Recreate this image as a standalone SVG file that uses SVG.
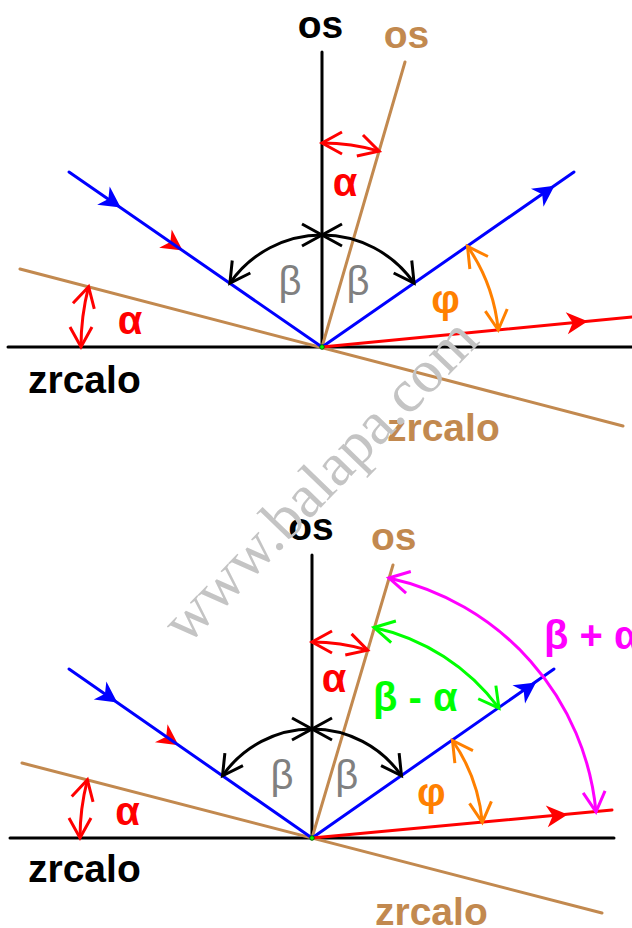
<svg xmlns="http://www.w3.org/2000/svg" xmlns:xlink="http://www.w3.org/1999/xlink" width="632" height="928" viewBox="0 0 632 928">
<style>
.lbl{font-family:"Liberation Sans",Arial,sans-serif;font-weight:bold;font-size:39px}
.gr{font-family:"Liberation Sans",Arial,sans-serif;font-size:40px}
.grb{font-family:"Liberation Sans",Arial,sans-serif;font-size:40px;font-weight:bold}
.ln{stroke-width:3;fill:none;stroke-linecap:round}
.arc{stroke-width:3;fill:none}
.k{stroke:#000}.b{stroke:#0000ff}.r{stroke:#ff0000}.t{stroke:#c2894f}
.wm{font-family:"Liberation Serif","Times New Roman",serif;font-size:61px;fill:#c4c4c4}
</style>
<defs>
<path id="ah" d="M0,0 L-21,-11 L-15,0 L-21,11 Z"/>
<marker id="mk" markerUnits="userSpaceOnUse" markerWidth="30" markerHeight="30" viewBox="-25 -15 30 30" refX="0" refY="0" orient="auto-start-reverse"><path d="M-20,-11 L0,0 L-20,11" fill="none" stroke="#000" stroke-width="3"/></marker>
<marker id="mr" markerUnits="userSpaceOnUse" markerWidth="30" markerHeight="30" viewBox="-25 -15 30 30" refX="0" refY="0" orient="auto-start-reverse"><path d="M-20,-11 L0,0 L-20,11" fill="none" stroke="#ff0000" stroke-width="3"/></marker>
<marker id="mo" markerUnits="userSpaceOnUse" markerWidth="30" markerHeight="30" viewBox="-25 -15 30 30" refX="0" refY="0" orient="auto-start-reverse"><path d="M-20,-11 L0,0 L-20,11" fill="none" stroke="#ff8000" stroke-width="3"/></marker>
<marker id="mg" markerUnits="userSpaceOnUse" markerWidth="30" markerHeight="30" viewBox="-25 -15 30 30" refX="0" refY="0" orient="auto-start-reverse"><path d="M-20,-11 L0,0 L-20,11" fill="none" stroke="#00ff00" stroke-width="3"/></marker>
<marker id="mm" markerUnits="userSpaceOnUse" markerWidth="30" markerHeight="30" viewBox="-25 -15 30 30" refX="0" refY="0" orient="auto-start-reverse"><path d="M-20,-11 L0,0 L-20,11" fill="none" stroke="#ff00ff" stroke-width="3"/></marker>
</defs>
<rect width="632" height="928" fill="#fff"/>

<g id="connectors">
<!-- top figure -->
<line class="ln k" x1="8" y1="347" x2="632" y2="347"/>
<line class="ln k" x1="322" y1="52" x2="322" y2="347"/>
<line class="ln t" x1="322" y1="347" x2="405" y2="62"/>
<line class="ln t" x1="20" y1="269" x2="623" y2="426"/>
<use xlink:href="#ah" fill="#ff0000" transform="translate(182.7,250.6) rotate(34.7)"/>
<line class="ln b" x1="69" y1="172" x2="322" y2="347"/>
<line class="ln b" x1="322" y1="347" x2="574" y2="172"/>
<line class="ln r" x1="322" y1="347" x2="632" y2="317"/>
<use xlink:href="#ah" fill="#0000ff" transform="translate(120.7,207.6) rotate(34.7)"/>
<use xlink:href="#ah" fill="#0000ff" transform="translate(554.5,185.8) rotate(-34.7)"/>
<use xlink:href="#ah" fill="#ff0000" transform="translate(587.7,321.3) rotate(-5.5)"/>
<path class="arc k" marker-start="url(#mk)" marker-end="url(#mk)" d="M322,235 A112,112 0 0 0 229.9,283.2"/>
<path class="arc k" marker-start="url(#mk)" marker-end="url(#mk)" d="M322,235 A112,112 0 0 1 414.1,283.2"/>
<path class="arc r" marker-start="url(#mr)" marker-end="url(#mr)" d="M322,143 A204,204 0 0 1 379.1,151.1"/>
<path class="arc r" marker-start="url(#mr)" marker-end="url(#mr)" d="M88.6,286.7 A241,241 0 0 0 81,347"/>
<path class="arc" stroke="#ff8000" marker-start="url(#mo)" marker-end="url(#mo)" d="M467.5,246.3 A177,177 0 0 1 498.2,330"/>
<circle cx="322" cy="347" r="2.3" fill="#00ff00" stroke="#006400" stroke-width="1"/>

<!-- bottom figure -->
<line class="ln k" x1="10" y1="838" x2="614" y2="838"/>
<line class="ln k" x1="312" y1="555" x2="312" y2="838"/>
<line class="ln t" x1="312" y1="838" x2="393" y2="565"/>
<line class="ln t" x1="22" y1="763" x2="602" y2="913"/>
<use xlink:href="#ah" fill="#ff0000" transform="translate(178.5,745.3) rotate(34.8)"/>
<line class="ln b" x1="69" y1="669" x2="312" y2="838"/>
<line class="ln b" x1="312" y1="838" x2="554" y2="669"/>
<line class="ln r" x1="312" y1="838" x2="612" y2="810"/>
<use xlink:href="#ah" fill="#0000ff" transform="translate(117.3,702.4) rotate(34.8)"/>
<use xlink:href="#ah" fill="#0000ff" transform="translate(536,682.4) rotate(-34.8)"/>
<use xlink:href="#ah" fill="#ff0000" transform="translate(567.7,814.4) rotate(-5.3)"/>
<path class="arc k" marker-start="url(#mk)" marker-end="url(#mk)" d="M312,729 A109,109 0 0 0 222.5,775.8"/>
<path class="arc k" marker-start="url(#mk)" marker-end="url(#mk)" d="M312,729 A109,109 0 0 1 401.5,775.8"/>
<path class="arc r" marker-start="url(#mr)" marker-end="url(#mr)" d="M312,642 A196,196 0 0 1 367.6,650.1"/>
<path class="arc r" marker-start="url(#mr)" marker-end="url(#mr)" d="M87.4,779.8 A232,232 0 0 0 80,838"/>
<path class="arc" stroke="#ff8000" marker-start="url(#mo)" marker-end="url(#mo)" d="M452.5,740.5 A171,171 0 0 1 482.3,822.3"/>
<path class="arc" stroke="#00ff00" marker-start="url(#mg)" marker-end="url(#mg)" d="M374,627.5 A213,213 0 0 1 499,708.2"/>
<path class="arc" stroke="#ff00ff" marker-start="url(#mm)" marker-end="url(#mm)" d="M388.9,578 A265,265 0 0 1 596,811.8"/>
<circle cx="312" cy="838" r="2.3" fill="#00ff00" stroke="#006400" stroke-width="1"/>
</g>

<g id="top-labels">
<g id="t-os"><text class="lbl" x="320.5" y="38" text-anchor="middle" fill="#000">os</text></g>
<g id="t-os2"><text class="lbl" x="406.5" y="48" text-anchor="middle" fill="#c2894f">os</text></g>
<g id="t-zrcalo"><text class="lbl" x="28" y="393" fill="#000">zrcalo</text></g>
<g id="t-zrcalo2"><text class="lbl" x="387" y="441" fill="#c2894f">zrcalo</text></g>
<g id="t-alpha1"><text class="grb" x="345" y="196" text-anchor="middle" fill="#ff0000">α</text></g>
<g id="t-alpha2"><text class="grb" x="130" y="334" text-anchor="middle" fill="#ff0000">α</text></g>
<g id="t-beta1"><text class="gr" x="290" y="295" text-anchor="middle" fill="#808080">β</text></g>
<g id="t-beta2"><text class="gr" x="358" y="295" text-anchor="middle" fill="#808080">β</text></g>
<g id="t-phi"><text class="grb" x="445.6" y="313" text-anchor="middle" fill="#ff8000">φ</text></g>
</g>

<g id="bottom-labels">
<g id="b-os"><text class="lbl" x="311" y="540" text-anchor="middle" fill="#000">os</text></g>
<g id="b-os2"><text class="lbl" x="393.7" y="550" text-anchor="middle" fill="#c2894f">os</text></g>
<g id="b-zrcalo"><text class="lbl" x="28" y="882" fill="#000">zrcalo</text></g>
<g id="b-zrcalo2"><text class="lbl" x="375" y="925" fill="#c2894f">zrcalo</text></g>
<g id="b-alpha1"><text class="grb" x="334" y="692" text-anchor="middle" fill="#ff0000">α</text></g>
<g id="b-alpha2"><text class="grb" x="127.5" y="825" text-anchor="middle" fill="#ff0000">α</text></g>
<g id="b-beta1"><text class="gr" x="282" y="789" text-anchor="middle" fill="#808080">β</text></g>
<g id="b-beta2"><text class="gr" x="346.7" y="789" text-anchor="middle" fill="#808080">β</text></g>
<g id="b-phi"><text class="grb" x="431.3" y="806" text-anchor="middle" fill="#ff8000">φ</text></g>
<g id="b-bma"><text class="grb" x="373" y="711" fill="#00ff00">β - α</text></g>
<g id="b-bpa"><text class="grb" x="544" y="649" fill="#ff00ff">β + α</text></g>
</g>

<text class="wm" x="334" y="494" text-anchor="middle" transform="rotate(-46 334 494)">www.balapa.com</text>
</svg>
